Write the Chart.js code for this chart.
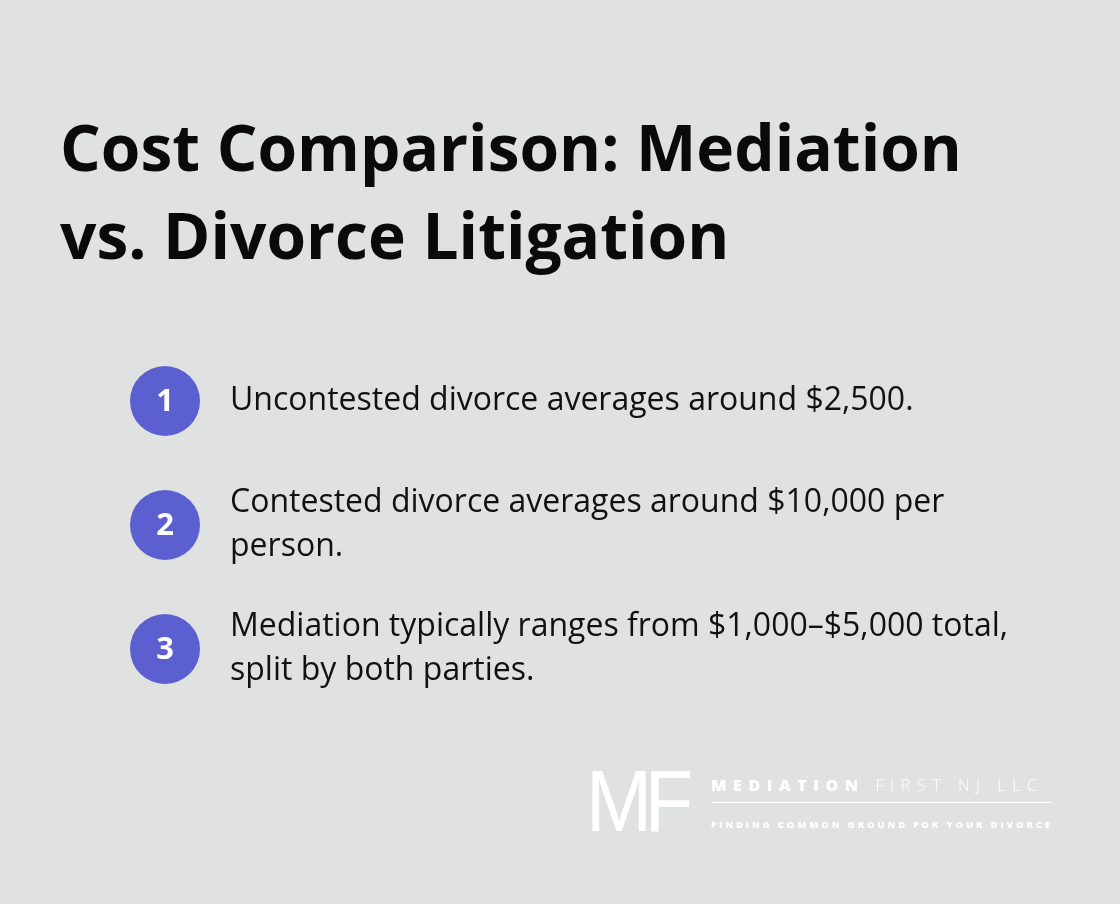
<!DOCTYPE html>
<html>
<head>
<meta charset="utf-8">
<script src="https://cdn.jsdelivr.net/npm/chart.js@4"></script>
<style>
  html, body { margin: 0; padding: 0; background: #e0e2e1; }
  #wrap { position: relative; width: 1120px; height: 904px; overflow: hidden; }
  h1 { position: absolute; left: 60px; top: 103px; margin: 0; font: 700 64px/88px 'Open Sans', sans-serif; color: #0a0a0a; }
  canvas { position: absolute; left: 0; top: 0; }
  .logo { position: absolute; left: 586px; top: 771px; color: #fff; font-family: 'Open Sans', sans-serif; }
  .mf { position: absolute; left: 0; top: -14px; font: 300 88px/88px 'Liberation Sans', sans-serif; letter-spacing: -8px; transform: scaleX(0.9); transform-origin: left; }
  .name { position: absolute; left: 125px; top: 3px; white-space: nowrap; font-size: 16px; letter-spacing: 6.6px; }
  .name b { font-weight: 800; }
  .name span { font-weight: 300; }
  .rule { position: absolute; left: 125px; top: 31px; width: 341px; height: 1px; background: #fff; }
  .tag { position: absolute; left: 125px; top: 47px; white-space: nowrap; font-size: 9.5px; font-weight: 800; letter-spacing: 2.85px; }
</style>
</head>
<body>
<div id="wrap">
  <h1>Cost Comparison: Mediation<br>vs. Divorce Litigation</h1>
  <canvas id="chartList" width="1120" height="904"></canvas>
  <div class="logo">
    <div class="mf">MF</div>
    <div class="name"><b>MEDIATION</b> <span>FIRST NJ LLC</span></div>
    <div class="rule"></div>
    <div class="tag">FINDING COMMON GROUND FOR YOUR DIVORCE</div>
  </div>
</div>
<script>
/* ── DATA ─────────────────────────────────────────────── */
const itemNumbers = ['1', '2', '3'];
const itemTexts = [
  'Uncontested divorce averages around $2,500.',
  'Contested divorce averages around $10,000 per person.',
  'Mediation typically ranges from $1,000–$5,000 total, split by both parties.'
];

const FONT = "'Open Sans', sans-serif";

/* wrap text into lines of given max width */
function wrapLines(ctx, text, maxW) {
  const words = text.split(' ');
  const lines = [];
  let cur = '';
  words.forEach(w => {
    const test = cur ? cur + ' ' + w : w;
    if (ctx.measureText(test).width > maxW && cur) { lines.push(cur); cur = w; }
    else cur = test;
  });
  if (cur) lines.push(cur);
  return lines;
}

/* draws number inside circle and the item text beside it */
const labelPlugin = {
  id: 'itemLabels',
  afterDatasetsDraw(chart) {
    const ctx = chart.ctx;
    const meta = chart.getDatasetMeta(0);
    meta.data.forEach((pt, i) => {
      ctx.save();
      ctx.fillStyle = '#ffffff';
      ctx.font = '700 31px ' + FONT;
      ctx.textAlign = 'center';
      ctx.textBaseline = 'middle';
      ctx.fillText(itemNumbers[i], pt.x, pt.y + 1);

      ctx.fillStyle = '#111111';
      ctx.font = '400 32px ' + FONT;
      ctx.textAlign = 'left';
      const lines = wrapLines(ctx, itemTexts[i], 785);
      const lh = 44;
      const y0 = pt.y - (lines.length - 1) * lh / 2;
      lines.forEach((ln, j) => ctx.fillText(ln, pt.x + 65, y0 + j * lh));
      ctx.restore();
    });
  }
};

new Chart(document.getElementById('chartList'), {
  type: 'scatter',
  data: {
    datasets: [{
      data: itemNumbers.map((n, i) => ({ x: 0, y: i + 1 })),
      pointRadius: 35,
      pointHoverRadius: 35,
      backgroundColor: '#5b5fcf',
      borderWidth: 0,
      clip: false
    }]
  },
  options: {
    responsive: false,
    animation: false,
    layout: { padding: 0, autoPadding: false },
    plugins: { legend: { display: false }, tooltip: { enabled: false } },
    events: [],
    scales: {
      x: { display: false, min: -165 / 1120 * 10, max: (1120 - 165) / 1120 * 10 },
      y: { display: false, reverse: true, min: 1 - 401 / 124, max: 1 - 401 / 124 + 904 / 124 }
    }
  },
  plugins: [labelPlugin]
});
</script>
</body>
</html>
